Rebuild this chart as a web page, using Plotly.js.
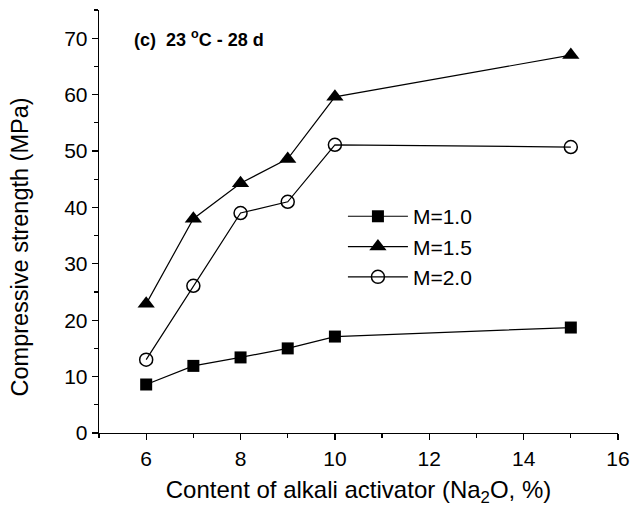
<!DOCTYPE html>
<html>
<head>
<meta charset="utf-8">
<script src="https://cdn.plot.ly/plotly-3.0.1.min.js"></script>
<style>html,body{margin:0;padding:0;background:#fff;}#chart{width:630px;height:515px;}</style>
</head>
<body>
<div id="chart"></div>
<script>
const xNa2O = [6, 7, 8, 9, 10, 15];
const m10 = [8.6, 11.9, 13.4, 15.0, 17.1, 18.7];
const m15 = [22.9, 38.0, 44.3, 48.6, 59.6, 67.0];
const m20 = [13.0, 26.1, 39.0, 41.0, 51.1, 50.7];
const seriesNames = ['M=1.0', 'M=1.5', 'M=2.0'];
const xTicks = [6, 8, 10, 12, 14, 16];
const yTicks = [0, 10, 20, 30, 40, 50, 60, 70];

const lineStyle = {color: '#000', width: 1.2};
const traces = [
  {x: xNa2O, y: m10, name: seriesNames[0], mode: 'lines+markers', line: lineStyle,
   marker: {symbol: 'square', size: 12, color: '#000'}},
  {x: xNa2O, y: m15, name: seriesNames[1], mode: 'lines+markers', line: lineStyle,
   marker: {symbol: 'triangle-up', size: 15, color: '#000'}},
  {x: xNa2O, y: m20, name: seriesNames[2], mode: 'lines+markers', line: lineStyle,
   marker: {symbol: 'circle-open', size: 13, color: '#000', line: {width: 1.5, color: '#000'}}}
];

const fontFam = 'Liberation Sans, Arial, Helvetica, sans-serif';
const layout = {
  width: 630, height: 515,
  margin: {l: 99, r: 12, t: 10, b: 82},
  paper_bgcolor: '#fff', plot_bgcolor: '#fff',
  font: {family: fontFam, color: '#000', size: 21},
  showlegend: true,
  legend: {x: 0.47, y: 0.56, xanchor: 'left', yanchor: 'top', bgcolor: 'rgba(0,0,0,0)',
           font: {size: 21, family: fontFam}, tracegroupgap: 0, itemwidth: 60},
  xaxis: {
    range: [5, 16], tickvals: xTicks, ticktext: xTicks.map(String),
    showline: true, linecolor: '#000', linewidth: 1.3, mirror: false,
    ticks: 'outside', ticklen: 6, tickwidth: 1.3, tickcolor: '#000',
    showgrid: false, zeroline: false,
    minor: {dtick: 1, tick0: 5, ticks: 'outside', ticklen: 4, tickwidth: 1.3, tickcolor: '#000', showgrid: false},
    tickfont: {size: 21, family: fontFam},
    title: {text: 'Content of alkali activator (Na<sub>2</sub>O, %)', font: {size: 24, family: fontFam}, standoff: 12}
  },
  yaxis: {
    range: [0, 75], tickvals: yTicks, ticktext: yTicks.map(String),
    showline: true, linecolor: '#000', linewidth: 1.3, mirror: false,
    ticks: 'outside', ticklen: 6, tickwidth: 1.3, tickcolor: '#000',
    showgrid: false, zeroline: false,
    minor: {dtick: 5, tick0: 0, ticks: 'outside', ticklen: 4, tickwidth: 1.3, tickcolor: '#000', showgrid: false},
    tickfont: {size: 21, family: fontFam}
  },
  annotations: [
    {text: '<b>(c)  23 <sup>o</sup>C - 28 d</b>', xref: 'paper', yref: 'y', x: 0.063, y: 70,
     xanchor: 'left', yanchor: 'middle', showarrow: false, font: {size: 18, family: fontFam}},
    {text: 'Compressive strength (MPa)', xref: 'paper', yref: 'paper', x: -0.153, y: 0.44,
     xanchor: 'center', yanchor: 'middle', textangle: -90, showarrow: false, font: {size: 23.5, family: fontFam}}
  ]
};
Plotly.newPlot('chart', traces, layout, {displayModeBar: false, staticPlot: true});
</script>
</body>
</html>
